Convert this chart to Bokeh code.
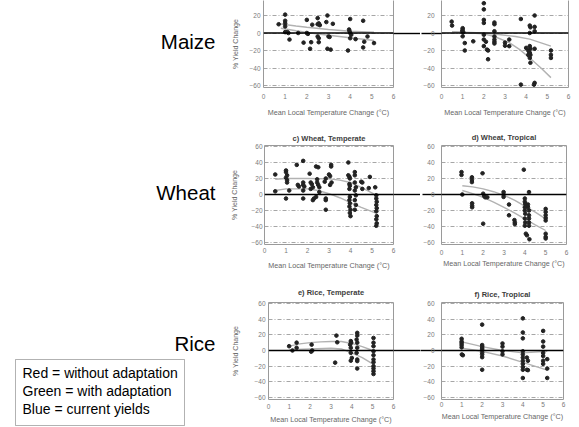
from bokeh.plotting import figure
from bokeh.models import Range1d, FixedTicker, LinearAxis, Span, BoxAnnotation
from bokeh.layouts import row, column
from bokeh.core.properties import value
from bokeh.embed import file_html
from bokeh.resources import INLINE

# ---------------- data ----------------
x_ticks = [0, 1, 2, 3, 4, 5, 6]
y_ticks = [-60, -40, -20, 0, 20, 40, 60]
x_label = "Mean Local Temperature Change (°C)"
y_label = "% Yield Change"
row_labels = ["Maize", "Wheat", "Rice"]
legend_lines = ["Red = without adaptation", "Green = with adaptation", "Blue = current yields"]
titles = {"a": "", "b": "", "c": "c) Wheat, Temperate", "d": "d) Wheat, Tropical",
          "e": "e) Rice, Temperate", "f": "f) Rice, Tropical"}

# a) Maize, temperate
a_x = [0.7, 1.0, 1.0, 1.0, 1.0, 1.0, 1.1, 1.15, 1.2, 1.6, 1.85, 2.0, 2.0, 2.05, 2.15, 2.2, 2.25,
       2.5, 2.5, 2.55, 2.6, 2.5, 2.55, 2.55, 2.95, 2.9, 3.2, 3.0, 3.05, 2.95, 3.1, 4.0, 3.95,
       3.97, 4.0, 4.05, 4.0, 4.25, 3.9, 4.6, 4.65, 4.6, 4.8, 5.1]
a_y = [10, 21, 14, 11, 7.5, 1, 1, 0, -7.5, 0, -11, 15, 0, -1, -18, -10.5, 9.5,
       17, 10, 11, 9, -4, -6, -10.5, 20, 12.5, 10.5, -4, -4.5, -18, -19, 16, 4,
       2, 0, -2, -6, -7, -20, 14, -10, -16.5, -4, -11.5]
a_up_x = [0.7, 1.5, 2.0, 3.0, 4.0, 5.1]
a_up_y = [10.5, 8, 6.5, 4, 2, 1]
a_lo_x = [0.8, 1.5, 2.0, 3.0, 4.0, 5.1]
a_lo_y = [5.5, 2.5, 0.5, -2.5, -5.5, -8.5]

# b) Maize, tropical
b_x = [0.48, 0.5, 1.0, 1.0, 0.98, 1.03, 1.0, 1.1, 1.1, 1.5, 2.0, 2.0, 2.0, 2.0, 2.0, 2.0, 2.0,
       2.15, 2.2, 2.2, 2.5, 2.5, 2.5, 2.5, 2.5, 2.5, 2.5, 2.1, 3.0, 3.0, 3.2, 3.2, 3.75, 3.75,
       4.17, 4.2, 4.17, 4.0, 4.1, 4.15, 4.17, 4.2, 4.17, 4.2, 4.17, 4.2, 4.1, 4.4, 4.4, 4.4,
       4.4, 4.4, 4.37, 5.17, 5.17, 5.17]
b_y = [13, 8.5, 5.5, 3.8, 2, 0.8, -3.8, -11.5, -20, -9.5, 34, 27, 15, 11.5, -2, -7.5, -15,
       -19, -20, -30, 12, 10, 2, -4, -7.5, -10, -12, -10, -11, -14.5, -15, -7.5, 16, -59,
       8.5, 6.5, 0, -17, -20, -22, -15, -18, -23, -25, -28.5, -34, -25, 20, 7, 2,
       -18, -57, -59, -20, -25, -28.5]
b_up_x = [0.5, 1.0, 2.0, 2.8, 3.5, 4.17, 5.17]
b_up_y = [1.5, 1, 0, -2, -4, -7, -15]
b_lo_x = [0.5, 1.0, 2.0, 2.5, 3.2, 3.7, 4.17, 4.7, 5.17]
b_lo_y = [1.5, 0.5, -1, -4, -11, -19, -28.5, -40, -51]

# c) Wheat, temperate
c_x = [0.5, 0.5, 1.0, 1.0, 1.05, 1.0, 1.05, 1.05, 1.0, 1.15, 1.5, 1.8, 1.55, 1.6, 1.8, 1.8, 1.85,
       1.8, 1.8, 2.1, 2.15, 2.2, 2.25, 2.15, 2.4, 2.5, 2.45, 2.45, 2.5, 2.55, 2.4, 2.55, 2.3,
       2.25, 2.8, 2.85, 2.85, 2.85, 2.85, 3.0, 3.05, 3.1, 3.1, 3.12, 3.05, 3.9, 3.9, 3.95,
       3.97, 3.95, 3.97, 3.95, 3.97, 3.95, 3.97, 3.95, 4.0, 3.97, 4.0, 4.2, 4.2, 4.25, 4.2,
       4.25, 4.2, 4.25, 4.2, 4.2, 4.5, 4.55, 4.55, 4.85, 4.9, 5.15, 5.2, 5.2, 5.22, 5.2, 5.22,
       5.2, 5.22, 5.2, 5.22, 5.2]
c_y = [25, 4, 30, 28, 24, 21, 18, 15, -5, 5, 37, 42, 12, 10, 15, 12, 10,
       5, -5, 26, 15, 13, 9, 7, 35, 34, 19, 15, 12, 9, -3, 3, -5,
       -7, 16, 20, -5, -7, -19, 25, 23, 37, 35, 15, 12, 40, 24, 22,
       20, 13, 11, 7, -3, -7, -11, -15, -19, -23, -27, 28, 24, 9, 5,
       -1, -7, -13, -19, 15, 16, 15, 7, 8, 22, 9, -1, -5, -9, -13, -17,
       -21, -27, -31, -36, -39]
c_up_x = [0.5, 1.0, 2.0, 3.0, 3.5, 4.0, 4.5, 5.15]
c_up_y = [19, 20, 20, 19.5, 18, 15, 9, 0]
c_lo_x = [0.5, 1.0, 2.0, 2.5, 3.0, 3.5, 4.0, 4.5, 5.15]
c_lo_y = [5, 7, 7, 5, 1, -4, -10, -16, -23]

# d) Wheat, tropical
d_x = [0.96, 0.96, 1.0, 1.46, 1.46, 1.46, 1.47, 1.47, 1.47, 1.97, 2.0, 2.05, 2.1, 2.2, 2.0,
       2.98, 2.98, 2.98, 3.24, 3.24, 3.5, 3.52, 3.52, 3.95, 4.0, 4.0, 4.02, 4.0, 4.0, 4.02,
       4.0, 4.02, 4.0, 4.05, 4.1, 4.2, 4.15, 4.15, 4.2, 4.2, 4.2, 4.2, 4.2, 4.22, 5.0, 5.0,
       5.0, 5.0, 5.0, 5.0, 5.0, 5.0]
d_y = [28, 24.5, 0, 21.5, 18.5, 15.5, -11, -14, -16, 26.5, 1, -2, -3.5, -3.5, -36.5,
       3, 0, -3, -12.5, -26, -32, -35, -37, 31, -5, -9, -12, -16, -20, -24,
       -30, -35, -39, -49, -51, 3, -12.5, -16, -20, -26, -30, -35, -39, -56, -18, -22,
       -26, -29.5, -32.5, -49, -53, -55]
d_up_x = [1.0, 1.5, 2.0, 2.5, 3.0, 3.5, 4.0, 4.5, 5.0]
d_up_y = [11, 9.5, 7, 3.5, -1, -7, -14.5, -22, -30.5]
d_lo_x = [1.0, 1.5, 2.0, 2.5, 3.0, 3.5, 4.0, 4.5, 5.0]
d_lo_y = [5, 1, -3.5, -9.5, -16, -23, -30.5, -38, -45]

# e) Rice, temperate
e_x = [0.99, 1.15, 1.35, 1.35, 2.07, 2.1, 2.05, 3.26, 3.3, 3.2, 3.95, 3.97, 3.92, 3.95, 3.95,
       4.0, 3.95, 4.26, 4.26, 4.23, 4.26, 4.26, 4.23, 4.26, 4.26, 4.26, 5.04, 5.04, 5.04,
       5.04, 5.04, 5.04, 5.04, 5.04, 5.04, 5.04, 5.04]
e_y = [5.5, 0, 10, 3.5, 7.5, 0, -1.5, 19, 10.5, -15.5, 12, 10, 7.5, 3.5, -3,
       -9.5, -13, 22.5, 19, 14, 10, 3.5, -3, -11.5, -13.5, -23, 16, 10, 5.5,
       -1, -6, -11.5, -15, -20, -23, -26.5, -30]
e_up_x = [1.0, 1.5, 2.0, 2.5, 3.0, 3.5, 4.0, 4.5, 5.0]
e_up_y = [5.5, 8.5, 10, 11, 11.5, 11.5, 9, 5, 0]
e_lo_x = [1.0, 2.0, 3.0, 3.5, 4.0, 4.5, 5.0]
e_lo_y = [1, 2, 3, 2, -3, -9, -17]

# f) Rice, tropical
f_x = [0.99, 0.99, 0.99, 0.99, 0.99, 1.0, 1.05, 2.0, 2.0, 2.0, 2.0, 2.0, 2.0, 2.0, 2.0, 2.0,
       3.0, 3.0, 3.0, 3.0, 4.0, 4.0, 4.0, 4.0, 4.0, 4.0, 4.0, 4.0, 4.0, 4.0, 4.0, 4.2, 4.25,
       4.2, 4.25, 5.0, 5.0, 5.0, 5.0, 5.0, 5.0, 5.0, 5.2, 5.2, 5.2]
f_y = [15, 11.5, 9.5, 7, 4, -5, -6, 33, 7, 5, 3, 1, -2.5, -5, -8.5, -24.5,
       9, 5, -1, -5, 41, 23, 15.5, -1, -5, -9, -13, -17, -21, -24.5, -35, -9, -13,
       -24.5, -25, 25, 11.5, 5, -3, -7, -13, -17, -11, -23, -35]
f_up_x = [1.0, 2.0, 3.0, 4.0, 5.2]
f_up_y = [11, 5, 0, -3, -1]
f_lo_x = [1.0, 2.0, 3.0, 4.0, 5.2]
f_lo_y = [3, -1, -7, -15, -25]

# ---------------- layout / style (page pixels) ----------------
FONT = "Liberation Sans"
FRAME_C = "#9a9a9a"
GRID_C = "#a6a6a6"
TICK_C = "#7a7a7a"
AXIS_C = "#666666"
TITLE_C = "#3c3c3c"
DOT_C = "#222222"
CURVE_C = "#b2b2b2"
LEFT_W = 228
PAGE_H = 426

GEOM = {
    "a": dict(canvas=(228, 420, 0, 122), frame=(263, 393, 0, 87), yref=(20, 15, -60, 85),
              yl=(3, 7), xl=(6, 6), ts=0),
    "b": dict(canvas=(420, 578, 0, 122), frame=(440, 568, 0, 87), yref=(20, 15, -60, 85),
              yl=(7, 0), xl=(6, 6), ts=0),
    "c": dict(canvas=(228, 420, 122, 276), frame=(263, 393, 143, 246), yref=(60, 144, -60, 244),
              yl=(2, 10), xl=(3, 5), ts=5),
    "d": dict(canvas=(420, 578, 122, 276), frame=(439, 566, 145, 244), yref=(60, 146, -60, 242),
              yl=(7, 0), xl=(5, 1), ts=8),
    "e": dict(canvas=(228, 420, 276, 426), frame=(268, 393, 302, 399), yref=(60, 303, -60, 397),
              yl=(3, 12), xl=(4, 3), ts=11),
    "f": dict(canvas=(420, 578, 276, 426), frame=(441, 563, 298, 401), yref=(60, 299, -60, 399),
              yl=(7, 0), xl=(2, 2), ts=7),
}


def make_panel(key, px, py, ux, uy, lx, ly, left, top_row):
    g = GEOM[key]
    cl, cr, ct, cb = g["canvas"]
    fl, fr, ft, fb = g["frame"]
    v1, p1, v2, p2 = g["yref"]
    s = (p2 - p1) / (v1 - v2)
    y_top = v1 + (p1 - ft) / s
    y_bot = v2 - (fb - p2) / s
    t = titles[key]
    p = figure(width=cr - cl, height=cb - ct, x_range=Range1d(0, 6), y_range=Range1d(y_bot, y_top),
               min_border_left=fl - cl, min_border_right=cr - fr,
               min_border_top=ft - ct, min_border_bottom=cb - fb,
               output_backend="svg", toolbar_location=None, title=(t if t else None))
    p.background_fill_color = "white"
    p.border_fill_color = "white"
    if t:
        p.title.align = "center"
        p.title.text_font = FONT
        p.title.text_font_size = "7.5px"
        p.title.text_font_style = "bold"
        p.title.text_color = TITLE_C
        p.title.standoff = g["ts"]
    if top_row:
        p.outline_line_color = None
        edge = FRAME_C
    else:
        p.outline_line_color = FRAME_C
        edge = None

    p.xgrid.visible = False
    p.ygrid.ticker = FixedTicker(ticks=y_ticks)
    p.ygrid.grid_line_color = GRID_C
    p.ygrid.grid_line_dash = "4 2 1 2"
    p.ygrid.grid_line_width = 1

    xa = p.xaxis[0]
    xa.ticker = FixedTicker(ticks=x_ticks)
    xa.major_tick_out = 0
    xa.major_tick_in = 0
    xa.axis_line_color = edge
    xa.major_label_standoff = g["xl"][0]
    xa.major_label_text_font = FONT
    xa.major_label_text_font_size = "6.5px"
    xa.major_label_text_color = TICK_C
    xa.axis_label = x_label
    xa.axis_label_standoff = g["xl"][1]
    xa.axis_label_text_font = FONT
    xa.axis_label_text_font_size = "7.2px"
    xa.axis_label_text_font_style = "normal"
    xa.axis_label_text_color = AXIS_C

    ya = p.yaxis[0]
    ya.major_tick_out = 0
    ya.major_tick_in = 0
    ya.axis_line_color = edge
    ya.major_label_text_font = FONT
    ya.major_label_text_font_size = "6.5px"
    ya.major_label_text_color = TICK_C
    if left:
        ya.ticker = FixedTicker(ticks=y_ticks)
        ya.major_label_standoff = g["yl"][0]
        ya.axis_label = y_label
        ya.axis_label_standoff = g["yl"][1]
        ya.axis_label_text_font = FONT
        ya.axis_label_text_font_size = "7px"
        ya.axis_label_text_font_style = "normal"
        ya.axis_label_text_color = AXIS_C
        # right-hand axis whose single long tick carries the zero line across the gap
        gap = cr - fr
        ra = LinearAxis(ticker=FixedTicker(ticks=[0], minor_ticks=[0]),
                        major_tick_out=0, major_tick_in=0,
                        minor_tick_in=0, minor_tick_out=gap,
                        minor_tick_line_color="black", minor_tick_line_width=1.4,
                        major_label_overrides={0: ""}, major_label_standoff=0,
                        axis_line_color=edge)
        p.add_layout(ra, "right")
    else:
        gap = fl - cl
        ya.ticker = FixedTicker(ticks=y_ticks, minor_ticks=[0])
        ya.minor_tick_in = 0
        ya.minor_tick_out = gap
        ya.minor_tick_line_color = "black"
        ya.minor_tick_line_width = 1.4
        ya.major_label_standoff = g["yl"][0] - gap
        if top_row:
            ra = LinearAxis(ticker=FixedTicker(ticks=[]), major_tick_out=0, major_tick_in=0,
                            minor_tick_out=0, minor_tick_in=0, major_label_standoff=0,
                            axis_line_color=edge)
            p.add_layout(ra, "right")

    p.line(ux, uy, line_color=CURVE_C, line_width=1.4)
    p.line(lx, ly, line_color=CURVE_C, line_width=1.4)
    p.scatter(px, py, size=3.6, fill_color=DOT_C, line_color=DOT_C)
    p.add_layout(Span(location=0, dimension="width", line_color="black", line_width=1.4))
    return p


pa = make_panel("a", a_x, a_y, a_up_x, a_up_y, a_lo_x, a_lo_y, True, True)
pb = make_panel("b", b_x, b_y, b_up_x, b_up_y, b_lo_x, b_lo_y, False, True)
pc = make_panel("c", c_x, c_y, c_up_x, c_up_y, c_lo_x, c_lo_y, True, False)
pd = make_panel("d", d_x, d_y, d_up_x, d_up_y, d_lo_x, d_lo_y, False, False)
pe = make_panel("e", e_x, e_y, e_up_x, e_up_y, e_lo_x, e_lo_y, True, False)
pf = make_panel("f", f_x, f_y, f_up_x, f_up_y, f_lo_x, f_lo_y, False, False)

# left strip with crop names and the colour key
lf = figure(width=LEFT_W, height=PAGE_H, x_range=Range1d(0, LEFT_W), y_range=Range1d(PAGE_H, 0),
            min_border=0, output_backend="svg", toolbar_location=None,
            x_axis_location=None, y_axis_location=None)
lf.grid.visible = False
lf.outline_line_color = None
lf.text(x=[215, 215, 215], y=[41, 192, 343], text=row_labels, text_align="right",
        text_baseline="middle", text_font=value(FONT), text_font_size=value("20.5px"),
        text_color="black")
lf.text(x=[22, 22, 22], y=[372, 390, 408], text=legend_lines, text_align="left",
        text_baseline="middle", text_font=value(FONT), text_font_size=value("14px"),
        text_color="black")
lf.add_layout(BoxAnnotation(left=15, right=184, top=359, bottom=425,
                            fill_color=None, line_color="black", line_width=1))

layout = row(lf, column(row(pa, pb), row(pc, pd), row(pe, pf)))

with open("out.html", "w", encoding="utf-8") as fh:
    fh.write(file_html(layout, INLINE))
